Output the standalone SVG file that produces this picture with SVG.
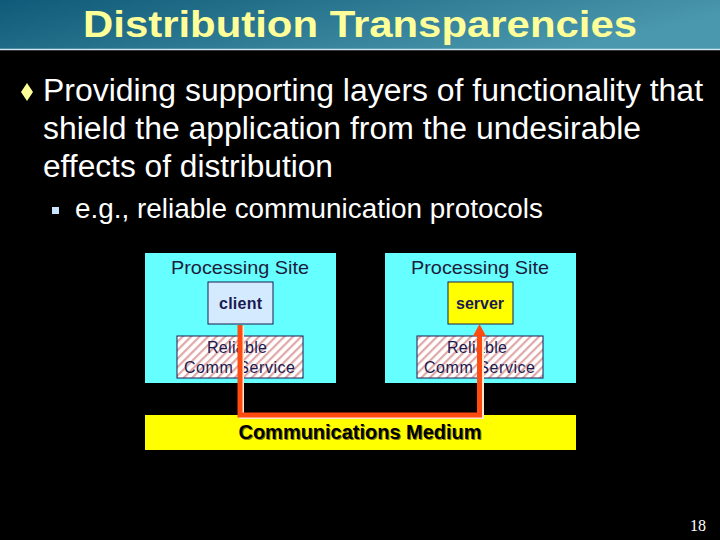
<svg xmlns="http://www.w3.org/2000/svg" width="720" height="540" viewBox="0 0 720 540">
<defs>
<linearGradient id="tg" x1="0" y1="0" x2="1" y2="0.3">
<stop offset="0" stop-color="#0f5a78"/>
<stop offset="1" stop-color="#4a98ad"/>
</linearGradient>
<pattern id="hatch" width="6" height="6" patternUnits="userSpaceOnUse" patternTransform="rotate(45)">
<rect width="6" height="6" fill="#ffffff"/>
<rect width="2.2" height="6" fill="#e0a8a8"/>
</pattern>
</defs>
<style>
.site{fill:#66ffff;}
.box{stroke:#1a1a50;stroke-width:1;}
.sitelbl{font-family:"Liberation Sans",Arial,sans-serif;font-size:19px;fill:#1c1c3c;text-anchor:middle;}
.inner{font-family:"Liberation Sans",Arial,sans-serif;font-size:16px;font-weight:bold;fill:#1a1a50;text-anchor:middle;}
.rel{font-family:"Liberation Sans",Arial,sans-serif;font-size:16px;fill:#1a1a50;text-anchor:middle;}
.body{font-family:"Liberation Sans",Arial,sans-serif;fill:#ffffff;}
</style>
<rect width="720" height="540" fill="#000000"/>
<rect width="720" height="49" fill="url(#tg)"/>
<line x1="0" y1="49.5" x2="720" y2="49.5" stroke="#cfe6ee" stroke-width="1.5"/>
<text x="360" y="37" font-family="'Liberation Sans',Arial,sans-serif" font-size="36" font-weight="bold" fill="#ffff99" text-anchor="middle" textLength="554" lengthAdjust="spacingAndGlyphs">Distribution Transparencies</text>

<path d="M27,83 L33,92 L27,101 L21,92 z" fill="#ffff99"/>
<text class="body" font-size="31" x="43" y="101" textLength="660" lengthAdjust="spacingAndGlyphs">Providing supporting layers of functionality that</text>
<text class="body" font-size="31" x="43" y="139" textLength="598" lengthAdjust="spacingAndGlyphs">shield the application from the undesirable</text>
<text class="body" font-size="31" x="43" y="177" textLength="290" lengthAdjust="spacingAndGlyphs">effects of distribution</text>
<rect x="52" y="207" width="7" height="7" fill="#c8e4ff"/>
<text class="body" font-size="27" x="75" y="218" textLength="468" lengthAdjust="spacingAndGlyphs">e.g., reliable communication protocols</text>

<g id="site-left">
<rect class="site" x="145" y="253" width="191" height="130"/>
<text class="sitelbl" x="240" y="274" textLength="138" lengthAdjust="spacingAndGlyphs">Processing Site</text>
</g>
<g id="client">
<rect class="box" x="208" y="282" width="65" height="42" fill="#d4eaff"/>
<text class="inner" x="240.5" y="309" textLength="43">client</text>
</g>
<g id="rcs-left">
<rect class="box" x="177" y="336" width="126" height="42" fill="url(#hatch)"/>
<text class="rel" x="237" y="353" textLength="60">Reliable</text>
<text class="rel" x="239.5" y="373" textLength="111">Comm Service</text>
</g>

<g id="site-right">
<rect class="site" x="385" y="253" width="191" height="130"/>
<text class="sitelbl" x="480" y="274" textLength="138" lengthAdjust="spacingAndGlyphs">Processing Site</text>
</g>
<g id="server">
<rect class="box" x="448" y="282" width="65" height="42" fill="#ffff00"/>
<text class="inner" x="480" y="309" textLength="48">server</text>
</g>
<g id="rcs-right">
<rect class="box" x="417" y="336" width="126" height="42" fill="url(#hatch)"/>
<text class="rel" x="477" y="353" textLength="60">Reliable</text>
<text class="rel" x="479.5" y="373" textLength="111">Comm Service</text>
</g>

<g id="medium">
<rect x="145" y="415" width="431" height="35" fill="#ffff00"/>
<text x="360" y="439" font-family="'Liberation Sans',Arial,sans-serif" font-size="20" font-weight="bold" fill="#8a7a00" text-anchor="middle" transform="translate(1,1)" textLength="243" lengthAdjust="spacingAndGlyphs">Communications Medium</text>
<text x="360" y="439" font-family="'Liberation Sans',Arial,sans-serif" font-size="20" font-weight="bold" fill="#000000" text-anchor="middle" textLength="243" lengthAdjust="spacingAndGlyphs">Communications Medium</text>
</g>

<g id="connectors">
<polyline points="241.5,326 241.5,416.5 481.5,416.5 481.5,338" fill="none" stroke="#ffe8d0" stroke-width="5"/>
<polyline points="240,325 240,415 479.5,415 479.5,336" fill="none" stroke="#ff4a10" stroke-width="5"/>
<path d="M479.5,324 L486,336 L473,336 z" fill="#ff4a10"/>
</g>

<text x="698" y="531" font-family="'Liberation Serif','Times New Roman',serif" font-size="16" fill="#ffffff" text-anchor="middle">18</text>
</svg>
